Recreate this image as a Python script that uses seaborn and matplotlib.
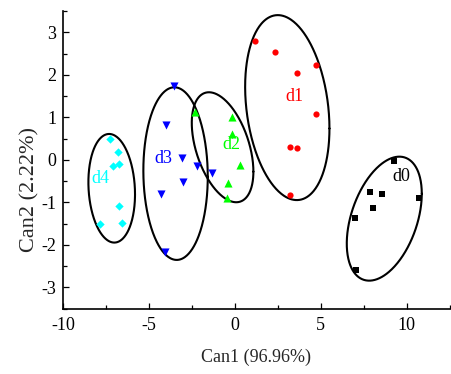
import numpy as np
import pandas as pd
import matplotlib
matplotlib.use("Agg")
import matplotlib.pyplot as plt
from matplotlib.ticker import MultipleLocator
import seaborn as sns

# ---------------- data ----------------
groups = ["d0", "d1", "d2", "d3", "d4"]
colors = ["#000000", "#ff0000", "#00ff00", "#0000ff", "#00ffff"]
markers = ["s", "o", "^", "v", "D"]
marker_sizes = [20, 20, 34, 34, 18]

d0_x = [9.29, 7.87, 8.55, 8.07, 10.75, 7.02, 7.06]
d0_y = [-0.02, -0.76, -0.81, -1.13, -0.91, -1.37, -2.59]
d1_x = [1.15, 2.35, 3.60, 4.73, 4.73, 3.23, 3.64, 3.21]
d1_y = [2.80, 2.54, 2.04, 2.23, 1.07, 0.31, 0.28, -0.84]
d2_x = [-2.33, -0.19, -0.19, 0.30, -0.38, -0.44]
d2_y = [1.13, 1.01, 0.60, -0.12, -0.54, -0.91]
d3_x = [-3.53, -4.03, -3.10, -2.21, -1.35, -3.01, -4.31, -4.07]
d3_y = [1.74, 0.82, 0.05, -0.15, -0.32, -0.52, -0.80, -2.16]
d4_x = [-7.28, -6.79, -7.09, -6.74, -6.74, -7.86, -6.56]
d4_y = [0.49, 0.18, -0.14, -0.09, -1.09, -1.51, -1.49]

# group label positions
label_x = [9.72, 3.46, -0.23, -4.17, -7.82]
label_y = [-0.40, 1.48, 0.35, 0.04, -0.44]

# confidence ellipses: centre, half-extent in x and y, correlation
ell_cx = [8.70, 3.05, -0.72, -3.46, -7.18]
ell_cy = [-1.386, 1.227, 0.294, -0.326, -0.671]
ell_sx = [2.185, 2.456, 1.795, 1.876, 1.358]
ell_sy = [1.459, 2.176, 1.294, 2.031, 1.278]
ell_r = [0.4025, -0.2255, -0.4427, -0.036, -0.1107]

xs = [d0_x, d1_x, d2_x, d3_x, d4_x]
ys = [d0_y, d1_y, d2_y, d3_y, d4_y]
df = pd.concat([pd.DataFrame({"Can1": x, "Can2": y, "group": g})
                for x, y, g in zip(xs, ys, groups)], ignore_index=True)

# ---------------- style ----------------
sns.set_style("ticks")
plt.rcParams["font.family"] = ["Liberation Serif", "DejaVu Serif"]
plt.rcParams["axes.unicode_minus"] = False

fig = plt.figure(figsize=(4.51, 3.74), dpi=100)
ax = fig.add_axes([63.3 / 451, (374 - 308.5) / 374, 386.2 / 451, 297.5 / 374])

# ellipses
t = np.linspace(0, 2 * np.pi, 400)
for cx, cy, sx, sy, r in zip(ell_cx, ell_cy, ell_sx, ell_sy, ell_r):
    ex = cx + sx * np.cos(t)
    ey = cy + sy * (r * np.cos(t) + np.sqrt(1 - r * r) * np.sin(t))
    ax.plot(ex, ey, color="black", lw=1.5, zorder=2)

for g, c, m, s in zip(groups, colors, markers, marker_sizes):
    sns.scatterplot(data=df[df["group"] == g], x="Can1", y="Can2", color=c,
                    marker=m, s=s, linewidth=0, ax=ax, zorder=3, legend=False)

for g, c, lx, ly in zip(groups, colors, label_x, label_y):
    ax.text(lx, ly, g, color=c, fontsize=13, ha="center", va="center", zorder=4)

ax.set_xlim(-10, 12.5)
ax.set_ylim(-3.5, 3.5)
ax.xaxis.set_major_locator(MultipleLocator(5))
ax.xaxis.set_minor_locator(MultipleLocator(2.5))
ax.yaxis.set_major_locator(MultipleLocator(1))
ax.yaxis.set_minor_locator(MultipleLocator(0.5))

for sp in ["top", "right"]:
    ax.spines[sp].set_visible(False)
for sp in ["left", "bottom"]:
    ax.spines[sp].set_linewidth(1.2)
    ax.spines[sp].set_color("black")

ax.tick_params(which="both", direction="in", colors="black", labelsize=13)
ax.tick_params(which="major", length=4.5, width=0.9)
ax.tick_params(which="minor", length=2.6, width=0.9)
ax.tick_params(axis="x", pad=6)
ax.tick_params(axis="y", pad=5)

ax.set_xlabel("Can1 (96.96%)", fontsize=13)
ax.set_ylabel("Can2 (2.22%)", fontsize=16)
ax.xaxis.set_label_coords(0.5, -0.135)
ax.yaxis.set_label_coords(-0.062, 0.40)

fig.savefig("out.png", dpi=100)
